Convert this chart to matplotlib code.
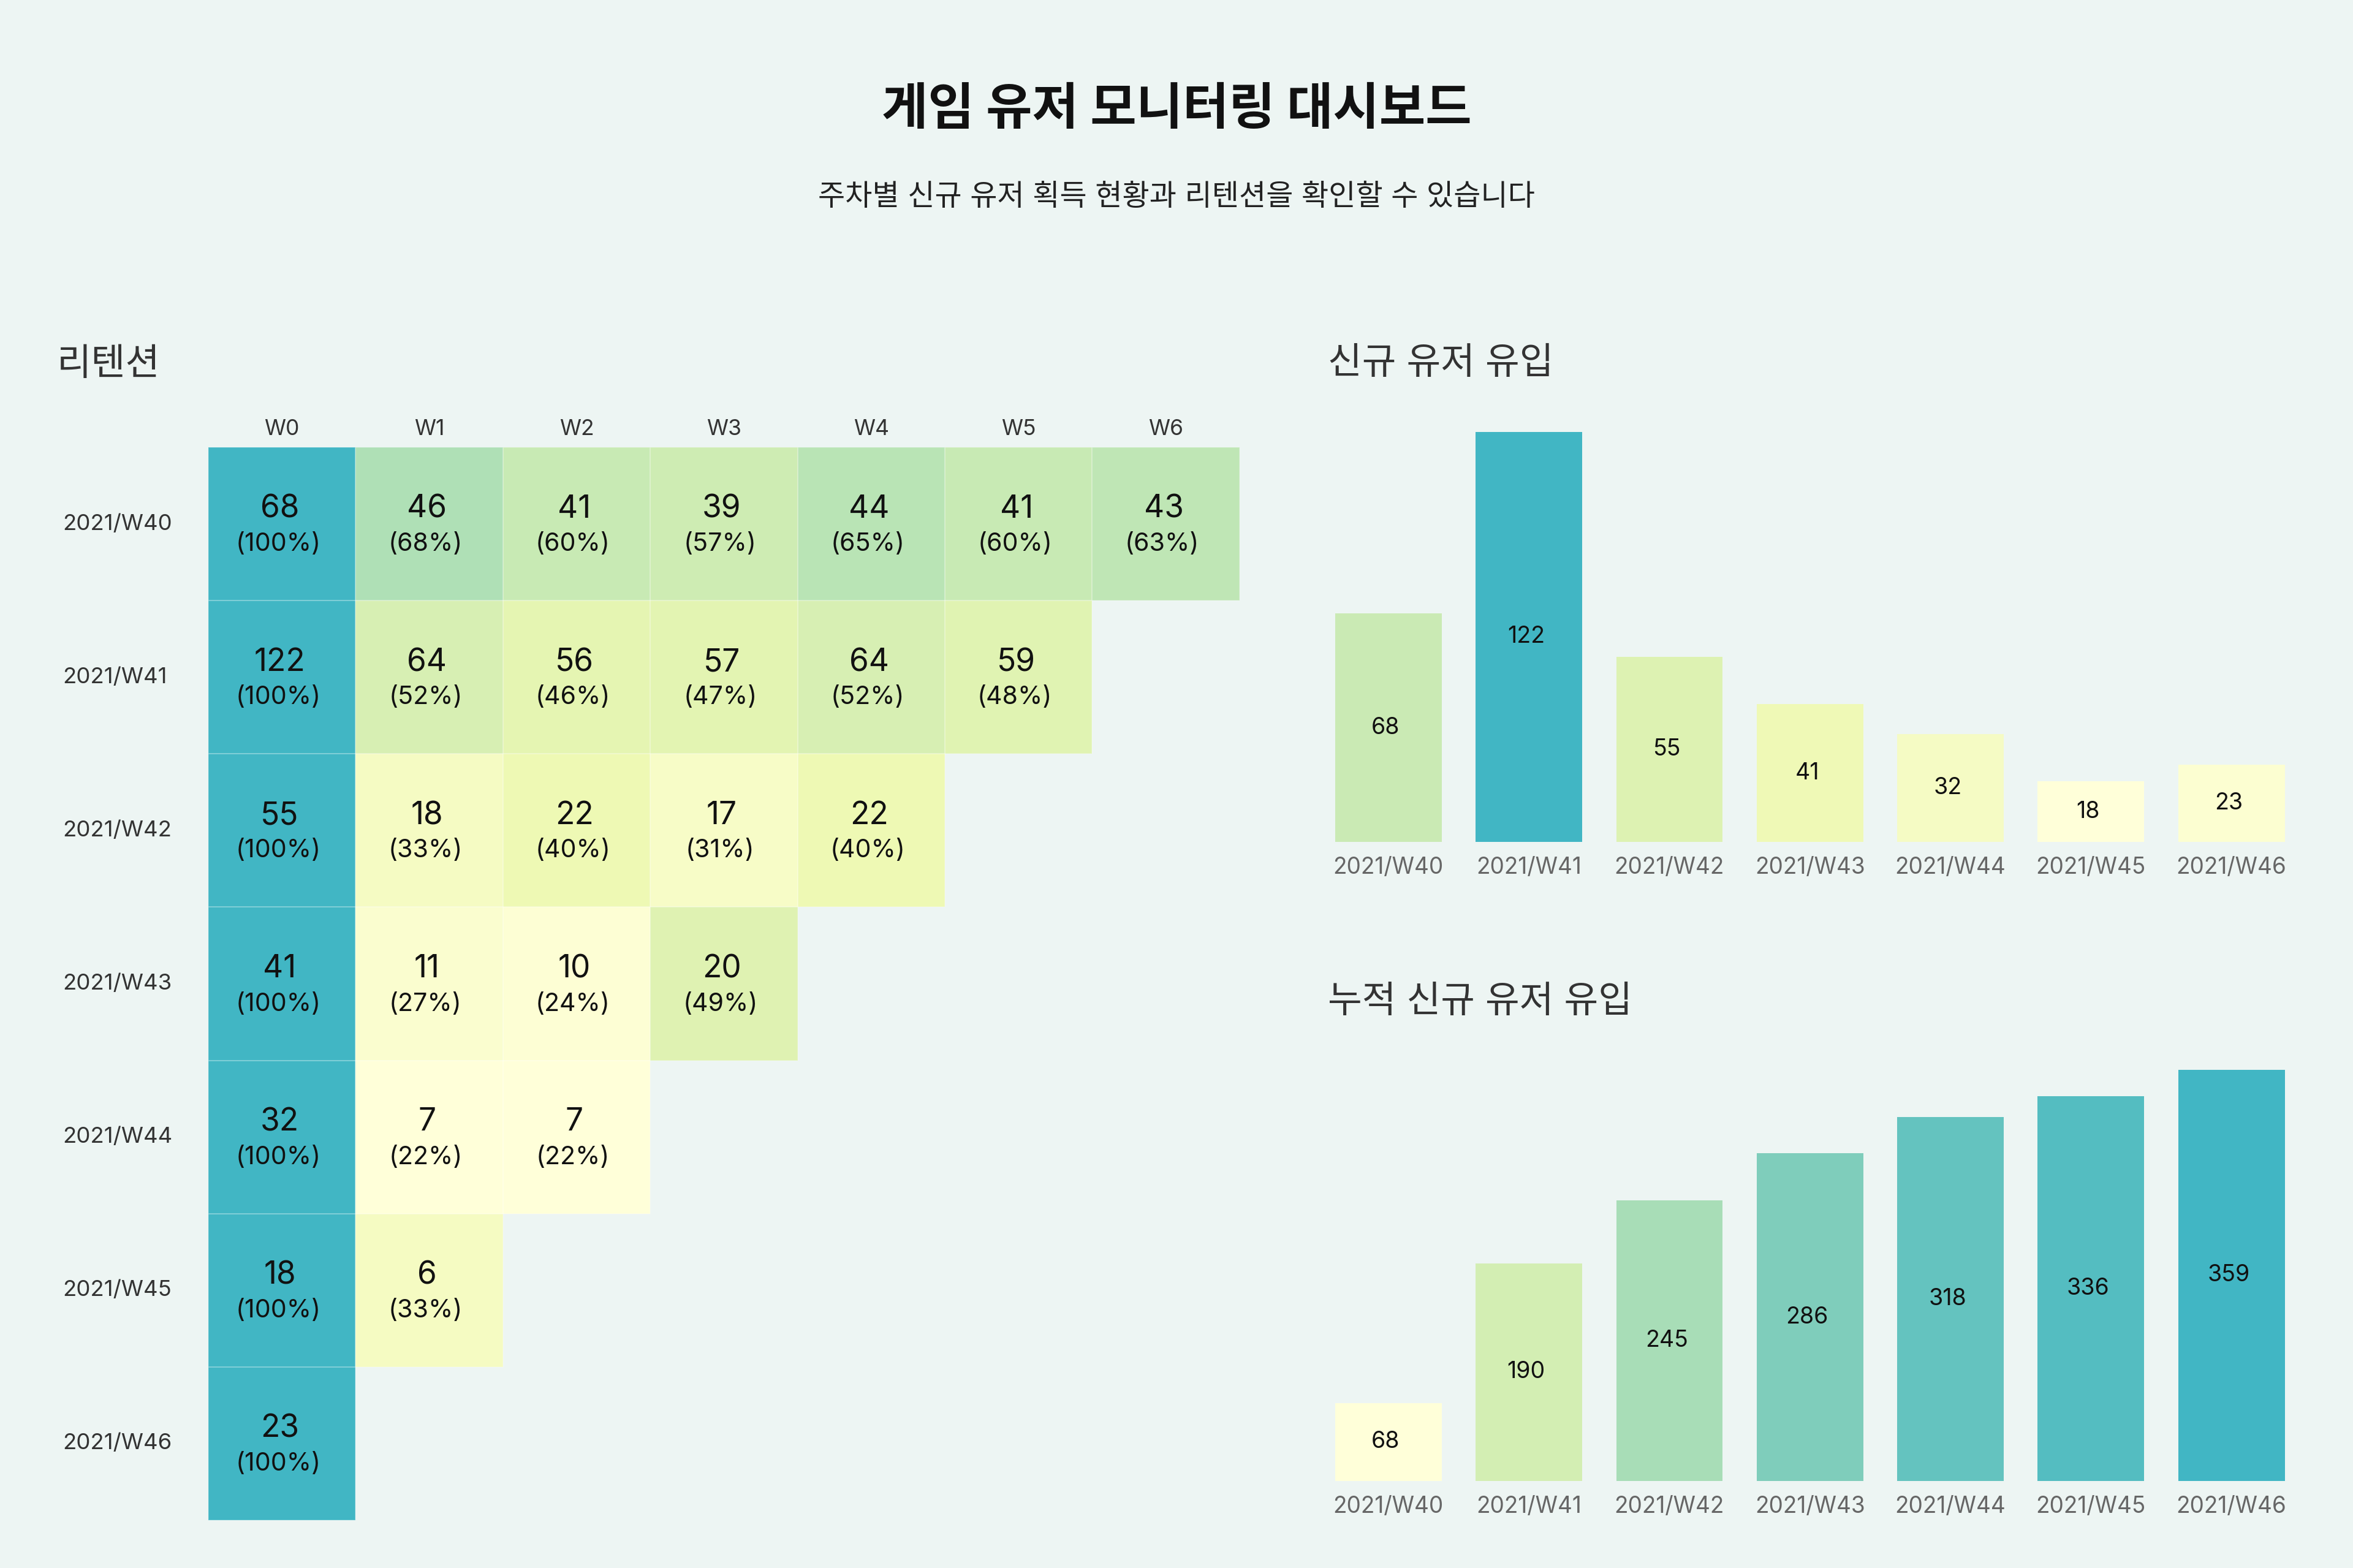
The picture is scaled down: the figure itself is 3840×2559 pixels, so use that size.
import numpy as np
import matplotlib
matplotlib.use("Agg")
import matplotlib.pyplot as plt
from matplotlib.colors import LinearSegmentedColormap, Normalize
from matplotlib.patches import Rectangle
from matplotlib.transforms import blended_transform_factory

plt.rcParams['font.family'] = ['Inter', 'Noto Sans CJK KR', 'DejaVu Sans']

# ---------------- data ----------------
cohorts = ["2021/W40", "2021/W41", "2021/W42", "2021/W43", "2021/W44", "2021/W45", "2021/W46"]
week_labels = ["W0", "W1", "W2", "W3", "W4", "W5", "W6"]
retention_w40 = [68, 46, 41, 39, 44, 41, 43]
retention_w41 = [122, 64, 56, 57, 64, 59]
retention_w42 = [55, 18, 22, 17, 22]
retention_w43 = [41, 11, 10, 20]
retention_w44 = [32, 7, 7]
retention_w45 = [18, 6]
retention_w46 = [23]
retention_rows = [retention_w40, retention_w41, retention_w42, retention_w43,
                  retention_w44, retention_w45, retention_w46]
new_users = [68, 122, 55, 41, 32, 18, 23]
cumulative_users = [68, 190, 245, 286, 318, 336, 359]

title = "게임 유저 모니터링 대시보드"
subtitle = "주차별 신규 유저 획득 현황과 리텐션을 확인할 수 있습니다"

# ---------------- style ----------------
BG = "#edf5f3"
palette = ["#ffffd9", "#edf8b1", "#c7e9b4", "#7fcdbb", "#41b6c4"]
cmap = LinearSegmentedColormap.from_list("ylgnbu_part", palette)

fig = plt.figure(figsize=(19.2, 12.795), dpi=200)
fig.patch.set_facecolor(BG)

fig.text(0.5, 0.929, title, ha="center", va="center", fontsize=29.5,
         fontweight="bold", color="#111111")
fig.text(0.5, 0.874, subtitle, ha="center", va="center", fontsize=17.3,
         color="#222222")

# ---------------- heatmap ----------------
n = len(cohorts)
pct = np.full((n, n), np.nan)
vals = np.full((n, n), np.nan)
for i, row in enumerate(retention_rows):
    for j, v in enumerate(row):
        vals[i, j] = v
        pct[i, j] = v / row[0] * 100.0

ax = fig.add_axes([0.0885, 0.0305, 0.5268 - 0.0885, 0.7147 - 0.0305])
ax.set_facecolor(BG)
norm = Normalize(vmin=np.nanmin(pct), vmax=np.nanmax(pct))
masked = np.ma.masked_invalid(pct)
ax.pcolormesh(np.arange(n + 1), np.arange(n + 1), masked, cmap=cmap, norm=norm,
              edgecolors="none", linewidth=0)
for i in range(n):
    for j in range(n):
        if not np.isnan(pct[i, j]):
            ax.add_patch(Rectangle((j, i), 1, 1, fill=False,
                                   edgecolor=(1, 1, 1, 0.22), linewidth=0.6))
ax.set_xlim(0, n)
ax.set_ylim(n, 0)
ax.set_xticks([])
ax.set_yticks([])
for s in ax.spines.values():
    s.set_visible(False)

for j, lab in enumerate(week_labels):
    ax.text(j + 0.5, -0.12, lab, ha="center", va="center", fontsize=12.8, color="#333333")

tr = blended_transform_factory(fig.transFigure, ax.transData)
for i, lab in enumerate(cohorts):
    ax.text(0.0265, i + 0.5, lab, transform=tr, ha="left", va="center",
            fontsize=13.2, color="#333333")

for i in range(n):
    for j in range(n):
        if np.isnan(vals[i, j]):
            continue
        ax.text(j + 0.485, i + 0.405, f"{int(vals[i, j])}", ha="center", va="center",
                fontsize=18.5, color="#111111")
        ax.text(j + 0.475, i + 0.632, f"({pct[i, j]:.0f}%)", ha="center", va="center",
                fontsize=14.8, color="#111111")

fig.text(0.0242, 0.767, "리텐션", ha="left", va="center", fontsize=22, color="#333333")

# ---------------- bar charts ----------------
def bar_panel(rect, values):
    bax = fig.add_axes(rect)
    bax.set_facecolor(BG)
    x = np.arange(len(values))
    bnorm = Normalize(vmin=min(values), vmax=max(values))
    colors = [cmap(bnorm(v)) for v in values]
    bars = bax.bar(x, values, width=0.758, color=colors, linewidth=0)
    for b, v in zip(bars, values):
        bax.text(b.get_x() + b.get_width() / 2 - 0.02, v / 2, f"{v}", ha="center",
                 va="center", fontsize=13.5, color="#111111")
    bax.set_xlim(-0.5, len(values) - 0.5)
    bax.set_ylim(0, max(values))
    bax.set_xticks(x)
    bax.set_xticklabels(cohorts, fontsize=13.3, color="#666666")
    bax.tick_params(axis="x", length=0, pad=8.5)
    bax.set_yticks([])
    for s in bax.spines.values():
        s.set_visible(False)
    return bax

bar_panel([0.5602, 0.4631, 0.4180, 0.7245 - 0.4631], new_users)
fig.text(0.5643, 0.768, "신규 유저 유입", ha="left", va="center", fontsize=21.8, color="#333333")

bar_panel([0.5602, 0.0555, 0.4180, 0.3177 - 0.0555], cumulative_users)
fig.text(0.5643, 0.3605, "누적 신규 유저 유입", ha="left", va="center", fontsize=21.8, color="#333333")

fig.savefig("out.png", dpi=200, facecolor=BG)
